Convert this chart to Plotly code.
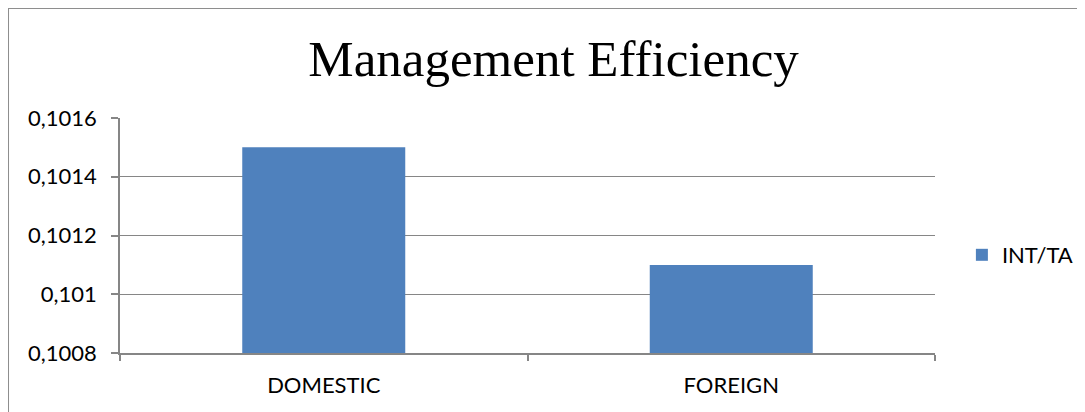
import plotly.graph_objects as go

categories = ["DOMESTIC", "FOREIGN"]
int_ta = [0.1015, 0.1011]
ytick_vals = [0.1008, 0.1010, 0.1012, 0.1014, 0.1016]
ytick_text = ["0,1008", "0,101", "0,1012", "0,1014", "0,1016"]

axis_grey = "#868686"
label_font = dict(family="Lato, Open Sans, sans-serif", size=22, color="#000000")

# page body has an 8px margin, so the figure itself starts at (8, 8)
fig = go.Figure()
fig.add_trace(go.Bar(x=categories, y=int_ta, name="INT/TA",
                     marker=dict(color="#4F81BD", line=dict(width=0))))

fig.update_layout(
    width=1085, height=412,
    margin=dict(l=112, r=158, t=110, b=67, autoexpand=False),
    paper_bgcolor="white", plot_bgcolor="white",
    bargap=0.6,
    title=dict(text="Management Efficiency", x=0.532, xref="paper", xanchor="center",
               y=0.878, yanchor="middle",
               font=dict(family="Liberation Serif, Times New Roman, serif", size=51, color="#000000")),
    showlegend=True,
    legend=dict(x=1.033, xanchor="left", y=0.417, yanchor="middle",
                font=label_font, itemwidth=30, bgcolor="rgba(0,0,0,0)"),
    shapes=[dict(type="rect", xref="paper", yref="paper",
                 x0=-0.1374, x1=1.25, y0=-0.4, y1=1.468,
                 line=dict(color="#8e8e8e", width=2), layer="below")],
)
fig.update_yaxes(range=[0.1008, 0.1016], tickvals=ytick_vals, ticktext=ytick_text,
                 showgrid=True, gridcolor=axis_grey, gridwidth=1,
                 showline=True, linecolor=axis_grey, linewidth=1.5,
                 ticks="outside", ticklen=7, tickcolor=axis_grey, tickwidth=1.5,
                 tickfont=label_font, zeroline=False, ticklabelstandoff=10)
fig.update_xaxes(showline=True, linecolor=axis_grey, linewidth=1.5,
                 ticks="outside", tickson="boundaries", ticklen=6, tickcolor=axis_grey, tickwidth=1.5,
                 tickfont=label_font, showgrid=False, ticklabelstandoff=12)

fig.write_html("out.html")
